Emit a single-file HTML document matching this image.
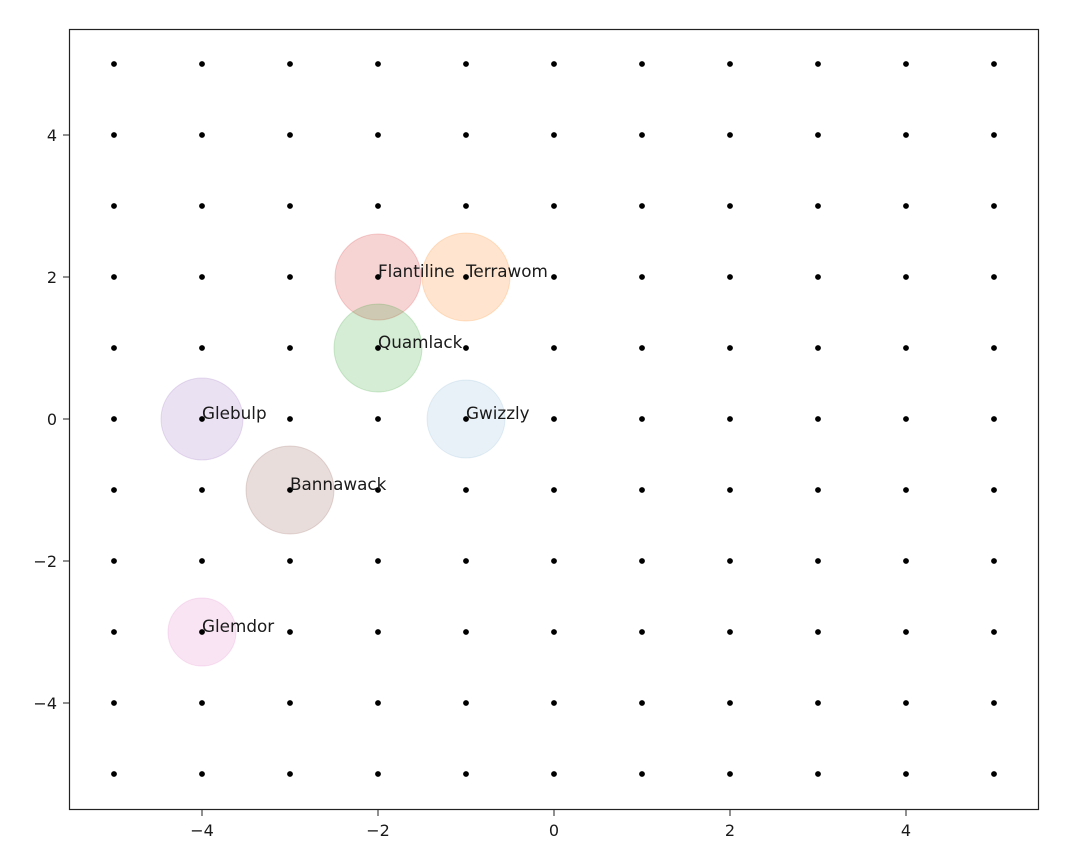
<!DOCTYPE html>
<html><head><meta charset="utf-8"><style>
body{margin:0;background:#fff;}
svg text{font-family:"DejaVu Sans","Liberation Sans",sans-serif;}
</style></head><body>
<svg id="chart" width="1083" height="863" xmlns="http://www.w3.org/2000/svg">
<rect x="0" y="0" width="1083" height="863" fill="#fff"/>
<g id="bubbles"></g>
<g id="grid-dots"></g>
<g id="labels"></g>
<rect x="69.5" y="29.5" width="969" height="780" fill="none" stroke="#222" stroke-width="1.2"/>
<g id="xticks"></g>
<g id="yticks"></g>
</svg>
<script>
const names = ["Flantiline","Terrawom","Quamlack","Glebulp","Gwizzly","Bannawack","Glemdor"];
const xs = [-2,-1,-2,-4,-1,-3,-4];
const ys = [2,2,1,0,0,-1,-3];
const radii = [43,44,44,41,39,44,34];
const colors = ["#d62728","#ff7f0e","#2ca02c","#9467bd","#1f77b4","#8c564b","#e377c2"];
const alphas = [0.2,0.2,0.2,0.2,0.1,0.2,0.2];
const xTicks = [-4,-2,0,2,4];
const yTicks = [-4,-2,0,2,4];
const gridVals = [-5,-4,-3,-2,-1,0,1,2,3,4,5];

const X = v => 554 + v*88;
const Y = v => 419 - v*71;
const NS = "http://www.w3.org/2000/svg";
function mk(tag, attrs, parent){const e=document.createElementNS(NS,tag);for(const k in attrs)e.setAttribute(k,attrs[k]);parent.appendChild(e);return e;}
const fmt = v => v<0 ? "\u2212"+Math.abs(v) : String(v);

const bg=document.getElementById("bubbles"), lg=document.getElementById("labels");
names.forEach((n,i)=>{
  const c=mk("circle",{cx:X(xs[i]),cy:Y(ys[i]),r:radii[i],fill:colors[i],"fill-opacity":alphas[i],stroke:colors[i],"stroke-opacity":alphas[i]},bg);
  
  
  const t=mk("text",{x:X(xs[i]),y:Y(ys[i]),"font-size":"16.8",fill:"#1a1a1a"},lg);
  t.textContent=n;
  
  
});
const gd = document.getElementById("grid-dots");
gridVals.forEach(gx=>gridVals.forEach(gy=>{
  const c=mk("circle",{cx:X(gx),cy:Y(gy),r:2.9,fill:"#000"},gd);
  
  
}));
const xt=document.getElementById("xticks");
xTicks.forEach(v=>{
  const l=mk("line",{x1:X(v),x2:X(v),y1:810,y2:816,stroke:"#222"},xt);
  
  
  const t=mk("text",{x:X(v),y:836,"font-size":"16","text-anchor":"middle",fill:"#1a1a1a"},xt);
  t.textContent=fmt(v);
  
  
});
const yt=document.getElementById("yticks");
yTicks.forEach(v=>{
  const l=mk("line",{x1:63,x2:69,y1:Y(v),y2:Y(v),stroke:"#222"},yt);
  
  
  const t=mk("text",{x:57,y:Y(v)+6,"font-size":"16","text-anchor":"end",fill:"#1a1a1a"},yt);
  t.textContent=fmt(v);
  
  
});
</script>
</body></html>
